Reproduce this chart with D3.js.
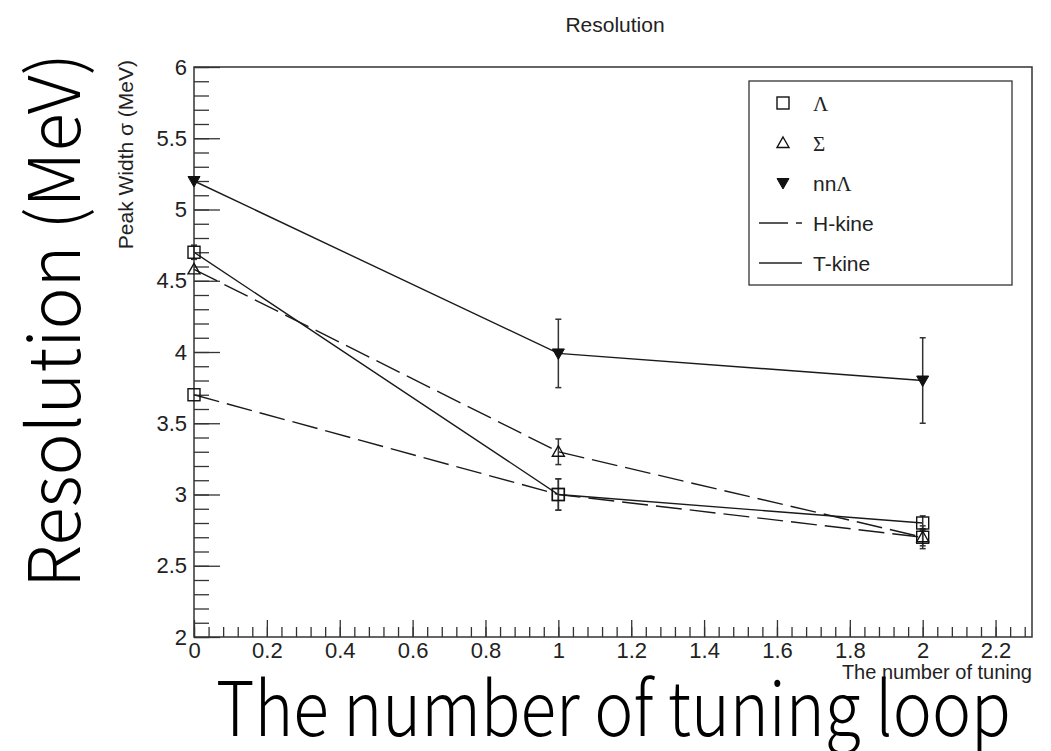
<!DOCTYPE html>
<html>
<head>
<meta charset="utf-8">
<script src="https://cdn.jsdelivr.net/npm/d3@7"></script>
<style>
  body { margin: 0; background: #fff; }
  text { font-family: "Liberation Sans", Arial, Helvetica, sans-serif; fill: #222; }
  .big { font-family: "Noto Sans CJK JP", "Noto Sans", sans-serif; font-weight: 300; fill: #000; }
</style>
</head>
<body>
<div id="chart"></div>
<script>
/* data */
var tuning = [0, 1, 2];

var lambdaT = [4.7, 3.0, 2.8],   lambdaTErr = [0.05, 0.11, 0.05];
var lambdaH = [3.7, 3.0, 2.7],   lambdaHErr = [0, 0.11, 0.06];
var sigmaH = [4.58, 3.3, 2.7],   sigmaHErr = [0, 0.09, 0.08];
var nnLambdaT = [5.2, 3.99, 3.8], nnLambdaTErr = [0, 0.24, 0.3];

var xTicks = [0, 0.2, 0.4, 0.6, 0.8, 1, 1.2, 1.4, 1.6, 1.8, 2, 2.2];
var yTicks = [2, 2.5, 3, 3.5, 4, 4.5, 5, 5.5, 6];

var series = [
  { name: "lambdaT", y: lambdaT, err: lambdaTErr, marker: "square", dash: null },
  { name: "lambdaH", y: lambdaH, err: lambdaHErr, marker: "square", dash: "26,8" },
  { name: "sigmaH", y: sigmaH, err: sigmaHErr, marker: "triangle", dash: "26,8" },
  { name: "nnLambdaT", y: nnLambdaT, err: nnLambdaTErr, marker: "down", dash: null }
];

/* frame */
var W = 1051, H = 751;
var frame = { left: 194, right: 1032, top: 67, bottom: 637 };

var svg = d3.select("#chart")
            .append("svg")
            .attr("width", W)
            .attr("height", H);

svg.append("rect").attr("width", W).attr("height", H).attr("fill", "#fff");

var x = d3.scaleLinear()
          .domain([0, 2.3])
          .range([frame.left, frame.right]);

var y = d3.scaleLinear()
          .domain([2, 6])
          .range([frame.bottom, frame.top]);

/* minor ticks */
var xMinor = d3.range(0, 58).map(function (i) { return +(i * 0.04).toFixed(2); });
var yMinor = d3.range(0, 41).map(function (i) { return +(2 + i * 0.1).toFixed(1); });

svg.append("g")
   .attr("transform", "translate(0," + frame.bottom + ")")
   .call(d3.axisBottom(x).tickValues(xMinor).tickSize(-10).tickFormat(""))
   .call(function (g) { g.select(".domain").remove(); });

svg.append("g")
   .attr("transform", "translate(" + frame.left + ",0)")
   .call(d3.axisLeft(y).tickValues(yMinor).tickSize(-15).tickFormat(""))
   .call(function (g) { g.select(".domain").remove(); });

/* major ticks + labels */
var xAxis = svg.append("g")
   .attr("transform", "translate(0," + frame.bottom + ")")
   .call(d3.axisBottom(x).tickValues(xTicks).tickSizeInner(-17).tickSizeOuter(0).tickPadding(5)
           .tickFormat(function (d) { return d3.format("")(d); }));
xAxis.select(".domain").remove();
xAxis.selectAll("text").style("font-size", "22px").attr("fill", "#222");

var yAxis = svg.append("g")
   .attr("transform", "translate(" + frame.left + ",0)")
   .call(d3.axisLeft(y).tickValues(yTicks).tickSizeInner(-26).tickSizeOuter(0).tickPadding(7)
           .tickFormat(function (d) { return d3.format("")(d); }));
yAxis.select(".domain").remove();
yAxis.selectAll("text").style("font-size", "22px").attr("fill", "#222");

svg.selectAll(".tick line").attr("stroke", "#333").attr("stroke-width", 1.3);

/* frame box */
svg.append("rect")
   .attr("x", frame.left)
   .attr("y", frame.top)
   .attr("width", frame.right - frame.left)
   .attr("height", frame.bottom - frame.top)
   .attr("fill", "none")
   .attr("stroke", "#333")
   .attr("stroke-width", 1.5);

/* lines */
var line = d3.line()
             .x(function (d) { return x(d[0]); })
             .y(function (d) { return y(d[1]); });

series.forEach(function (s) {
  var pts = tuning.map(function (t, i) { return [t, s.y[i]]; });
  svg.append("path")
     .attr("d", line(pts))
     .attr("fill", "none")
     .attr("stroke", "#1a1a1a")
     .attr("stroke-width", 1.4)
     .attr("stroke-dasharray", s.dash);
});

/* error bars */
series.forEach(function (s) {
  tuning.forEach(function (t, i) {
    if (!s.err[i]) return;
    var cx = x(t), lo = y(s.y[i] - s.err[i]), hi = y(s.y[i] + s.err[i]);
    svg.append("line").attr("x1", cx).attr("x2", cx).attr("y1", lo).attr("y2", hi)
       .attr("stroke", "#333").attr("stroke-width", 1.5);
    [lo, hi].forEach(function (yy) {
      svg.append("line").attr("x1", cx - 3).attr("x2", cx + 3).attr("y1", yy).attr("y2", yy)
         .attr("stroke", "#333").attr("stroke-width", 1.5);
    });
  });
});

/* markers */
function marker(g, type, cx, cy) {
  var r = 6;
  if (type === "square") {
    g.append("rect").attr("x", cx - r).attr("y", cy - r).attr("width", 2 * r).attr("height", 2 * r)
     .attr("fill", "none").attr("stroke", "#111").attr("stroke-width", 1.4);
  } else if (type === "triangle") {
    g.append("path").attr("d", "M" + cx + "," + (cy - r) + "L" + (cx + r) + "," + (cy + r * 0.75) + "L" + (cx - r) + "," + (cy + r * 0.75) + "Z")
     .attr("fill", "none").attr("stroke", "#111").attr("stroke-width", 1.4);
  } else {
    g.append("path").attr("d", "M" + cx + "," + (cy + r) + "L" + (cx + r) + "," + (cy - r * 0.75) + "L" + (cx - r) + "," + (cy - r * 0.75) + "Z")
     .attr("fill", "#111").attr("stroke", "#111").attr("stroke-width", 1);
  }
}

series.forEach(function (s) {
  tuning.forEach(function (t, i) { marker(svg, s.marker, x(t), y(s.y[i])); });
});

/* legend */
var leg = svg.append("g");
leg.append("rect")
   .attr("x", 749).attr("y", 81).attr("width", 263).attr("height", 204)
   .attr("fill", "#fff").attr("stroke", "#333").attr("stroke-width", 1.3);

var legRows = [
  { kind: "square", label: ["", "Λ"] },
  { kind: "triangle", label: ["", "Σ"] },
  { kind: "down", label: ["nn", "Λ"] },
  { kind: "dash", label: ["H-kine", ""] },
  { kind: "solid", label: ["T-kine", ""] }
];

legRows.forEach(function (r, i) {
  var cy = 103 + i * 40;
  if (r.kind === "dash" || r.kind === "solid") {
    leg.append("line").attr("x1", 759).attr("x2", 802).attr("y1", cy).attr("y2", cy)
       .attr("stroke", "#222").attr("stroke-width", 1.3)
       .attr("stroke-dasharray", r.kind === "dash" ? "29,8" : null);
  } else {
    marker(leg, r.kind, 783, cy);
  }
  var t = leg.append("text").attr("x", 813).attr("y", cy + 7.5).style("font-size", "21px");
  t.append("tspan").text(r.label[0]);
  if (r.label[1]) t.append("tspan").style("font-family", "'Liberation Serif', 'DejaVu Serif', serif").text(r.label[1]);
});

/* titles */
svg.append("text").attr("x", 615).attr("y", 32).attr("text-anchor", "middle")
   .style("font-size", "21px").text("Resolution");

svg.append("text").attr("transform", "translate(133,60) rotate(-90)").attr("text-anchor", "end")
   .style("font-size", "21px").text("Peak Width σ (MeV)");

svg.append("text").attr("x", frame.right).attr("y", 679).attr("text-anchor", "end")
   .style("font-size", "20px").text("The number of tuning");

/* big annotation texts */
svg.append("text").attr("class", "big")
   .attr("x", 216).attr("y", 736)
   .attr("textLength", 795).attr("lengthAdjust", "spacingAndGlyphs")
   .style("font-size", "75px").text("The number of tuning loop");

svg.append("text").attr("class", "big")
   .attr("transform", "translate(80,588) rotate(-90)")
   .attr("textLength", 535).attr("lengthAdjust", "spacingAndGlyphs")
   .style("font-size", "72px").text("Resolution (MeV)");
</script>
</body>
</html>
